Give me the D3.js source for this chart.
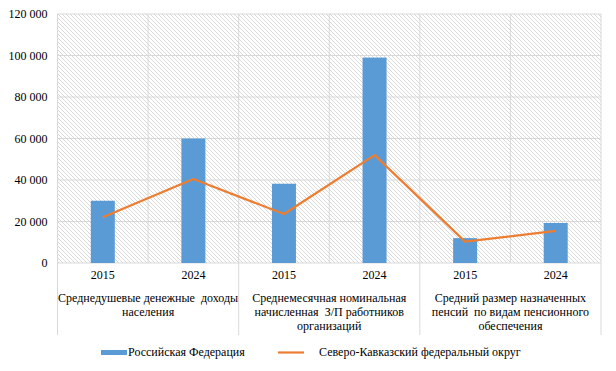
<!DOCTYPE html>
<html>
<head>
<meta charset="utf-8">
<script src="https://cdn.jsdelivr.net/npm/d3@7"></script>
<style>
  body { margin: 0; background: #fff; }
  svg text { font-family: "Liberation Serif", "DejaVu Serif", "Tinos", serif !important; white-space: pre; }
</style>
</head>
<body>
<div id="chart"></div>
<script>
// categories and series
var groups = [
  ["Среднедушевые денежные  доходы", "населения"],
  ["Среднемесячная номинальная", "начисленная  З/П работников", "организаций"],
  ["Средний размер назначенных", "пенсий  по видам пенсионного", "обеспечения"]
];
var years = ["2015", "2024"];
var rfValues = [30000, 60000, 38200, 99000, 12000, 19300];
var skfoValues = [22000, 40500, 23600, 52000, 10300, 15500];
var yTicks = [0, 20000, 40000, 60000, 80000, 100000, 120000];
var seriesNames = ["Российская Федерация", "Северо-Кавказский федеральный округ"];

var w = 616, h = 371;
var margin = {top: 14, right: 15, bottom: 108, left: 57.5};

var svg = d3.select("#chart").append("svg")
  .attr("width", w)
  .attr("height", h);

// hatch pattern of the plot area
var pat = svg.append("defs").append("pattern")
  .attr("id", "hatch")
  .attr("patternUnits", "userSpaceOnUse")
  .attr("width", 4).attr("height", 4);
pat.append("rect").attr("width", 4).attr("height", 4).attr("fill", "#fff");
pat.append("path")
  .attr("d", "M-1,-1 L5,5 M-1,3 L1,5 M3,-1 L5,1")
  .attr("stroke", "#cfcfcf")
  .attr("stroke-width", 0.8);

var keys = d3.range(rfValues.length);
var x = d3.scaleBand()
  .domain(keys)
  .range([margin.left, w - margin.right]);

var y = d3.scaleLinear()
  .domain([0, 120000])
  .range([h - margin.bottom, margin.top]);

var fmt = function(d) { return d3.format(",")(d).replace(/,/g, " "); };

// plot background
svg.append("rect")
  .attr("x", x.range()[0])
  .attr("y", y(120000))
  .attr("width", x.range()[1] - x.range()[0])
  .attr("height", y(0) - y(120000))
  .attr("fill", "url(#hatch)");

// horizontal gridlines
svg.append("g").selectAll("line")
  .data(yTicks)
  .enter().append("line")
  .attr("x1", x.range()[0])
  .attr("x2", x.range()[1])
  .attr("y1", d => y(d))
  .attr("y2", d => y(d))
  .attr("stroke", "#d9d9d9")
  .attr("stroke-width", 1);

// vertical gridlines (one per band), group separators go lower
var edges = keys.map(k => x(k)).concat([x.range()[1]]);
svg.append("g").selectAll("line")
  .data(edges)
  .enter().append("line")
  .attr("x1", d => d)
  .attr("x2", d => d)
  .attr("y1", y(120000))
  .attr("y2", (d, i) => (i % 2 === 0) ? 335 : y(0))
  .attr("stroke", "#d9d9d9")
  .attr("stroke-width", 1);

// y tick labels
svg.append("g").selectAll("text")
  .data(yTicks)
  .enter().append("text")
  .attr("x", 47.5)
  .attr("y", d => y(d) + 4)
  .attr("text-anchor", "end")
  .attr("font-size", 12)
  .text(fmt);

// bars
var barW = 24;
svg.append("g").selectAll("rect")
  .data(rfValues)
  .enter().append("rect")
  .attr("x", (d, i) => x(i) + x.bandwidth() / 2 - barW / 2)
  .attr("y", d => y(d))
  .attr("width", barW)
  .attr("height", d => y(0) - y(d))
  .attr("fill", "#5b9bd5");

// line
var line = d3.line()
  .x((d, i) => x(i) + x.bandwidth() / 2)
  .y(d => y(d));
svg.append("path")
  .datum(skfoValues)
  .attr("d", line)
  .attr("fill", "none")
  .attr("stroke", "#ed7d31")
  .attr("stroke-width", 2.2)
  .attr("stroke-linejoin", "round");

// year labels
svg.append("g").selectAll("text")
  .data(keys)
  .enter().append("text")
  .attr("x", d => x(d) + x.bandwidth() / 2)
  .attr("y", 279)
  .attr("text-anchor", "middle")
  .attr("font-size", 12)
  .text(d => years[d % 2]);

// category labels
groups.forEach(function(lines, g) {
  var cx = (x(g * 2) + x(g * 2 + 1) + x.bandwidth()) / 2;
  var t = svg.append("text")
    .attr("text-anchor", "middle")
    .attr("font-size", 12);
  lines.forEach(function(s, j) {
    t.append("tspan")
      .attr("x", cx)
      .attr("y", 302 + j * 14)
      .text(s);
  });
});

// legend
var leg = svg.append("g");
leg.append("rect")
  .attr("x", 101).attr("y", 350)
  .attr("width", 26).attr("height", 5)
  .attr("fill", "#5b9bd5");
leg.append("text")
  .attr("x", 128).attr("y", 356)
  .attr("font-size", 12)
  .text(seriesNames[0]);
leg.append("line")
  .attr("x1", 278).attr("x2", 304)
  .attr("y1", 352.5).attr("y2", 352.5)
  .attr("stroke", "#ed7d31")
  .attr("stroke-width", 2.2);
leg.append("text")
  .attr("x", 319).attr("y", 356)
  .attr("font-size", 12)
  .text(seriesNames[1]);
</script>
</body>
</html>
